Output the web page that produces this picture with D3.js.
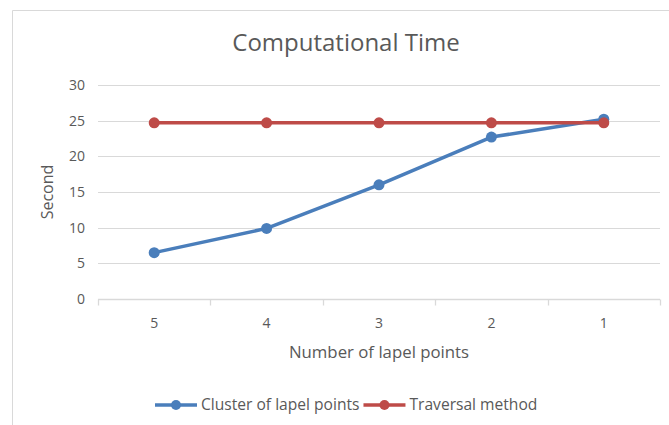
<!DOCTYPE html>
<html>
<head>
<meta charset="utf-8">
<script src="https://cdn.jsdelivr.net/npm/d3@7"></script>
<style>
  html, body { margin: 0; padding: 0; background: #fff; }
  svg { display: block; font-family: "Open Sans", "DejaVu Sans", sans-serif; }
</style>
</head>
<body>
<svg id="chart" width="669" height="425"></svg>
<script>
// Category labels along the x axis (number of lapel points, descending)
const categories = ["5", "4", "3", "2", "1"];
// Computation time in seconds for each method
const clusterValues = [6.5, 9.9, 16.0, 22.7, 25.2];
const traversalValues = [24.7, 24.7, 24.7, 24.7, 24.7];
const yTicks = [0, 5, 10, 15, 20, 25, 30];

const seriesList = [
  { name: "Cluster of lapel points", values: clusterValues, color: "#4a7ebb" },
  { name: "Traversal method", values: traversalValues, color: "#be4b48" }
];

const svg = d3.select("#chart");
const textColor = "#595959";

// Outer chart frame
svg.append("path")
  .attr("d", "M12.5,425 V10.5 H669")
  .attr("fill", "none")
  .attr("stroke", "#d9d9d9")
  .attr("stroke-width", 1);

const plot = { left: 98, right: 660, top: 85, bottom: 299 };

const x = d3.scaleBand().domain(categories).range([plot.left, plot.right]);
const y = d3.scaleLinear().domain([0, 30]).range([plot.bottom, plot.top]);

// Horizontal gridlines
svg.append("g")
  .selectAll("line")
  .data(yTicks.filter(t => t > 0))
  .join("line")
  .attr("x1", plot.left)
  .attr("x2", plot.right)
  .attr("y1", d => Math.round(y(d)) + 0.5)
  .attr("y2", d => Math.round(y(d)) + 0.5)
  .attr("stroke", "#d9d9d9")
  .attr("stroke-width", 1);

// Y axis labels
const yAxis = d3.axisLeft(y).tickValues(yTicks).tickSize(0).tickPadding(0);
const gy = svg.append("g")
  .attr("transform", `translate(${plot.left - 13},0)`)
  .call(yAxis);
gy.select(".domain").remove();
gy.selectAll("text")
  .attr("fill", textColor)
  .attr("font-size", 14)
  .attr("font-family", "Open Sans, sans-serif");

// X axis with ticks at the category boundaries
const gx = svg.append("g")
  .attr("transform", `translate(0,${Math.round(plot.bottom) + 0.5})`);
gx.append("line")
  .attr("x1", plot.left).attr("x2", plot.right)
  .attr("stroke", "#d9d9d9").attr("stroke-width", 1.3);
const boundaries = categories.map(c => x(c)).concat([x.range()[1]]);
gx.selectAll(".bt")
  .data(boundaries)
  .join("line")
  .attr("class", "bt")
  .attr("x1", d => Math.round(d) + 0.5)
  .attr("x2", d => Math.round(d) + 0.5)
  .attr("y1", 0).attr("y2", 6)
  .attr("stroke", "#d9d9d9").attr("stroke-width", 1.3);
gx.selectAll(".cl")
  .data(categories)
  .join("text")
  .attr("class", "cl")
  .attr("x", d => x(d) + x.bandwidth() / 2)
  .attr("y", 28)
  .attr("text-anchor", "middle")
  .attr("fill", textColor)
  .attr("font-size", 14)
  .text(d => d);

// Title and axis titles
svg.append("text")
  .attr("x", 346).attr("y", 51)
  .attr("text-anchor", "middle")
  .attr("fill", textColor)
  .attr("font-size", 24)
  .text("Computational Time");

svg.append("text")
  .attr("transform", `translate(53,${(plot.top + plot.bottom) / 2}) rotate(-90)`)
  .attr("text-anchor", "middle")
  .attr("fill", textColor)
  .attr("font-size", 16)
  .text("Second");

svg.append("text")
  .attr("x", (plot.left + plot.right) / 2).attr("y", 358)
  .attr("text-anchor", "middle")
  .attr("fill", textColor)
  .attr("font-size", 16.8)
  .text("Number of lapel points");

// Series lines and markers
const line = d3.line()
  .x((d, i) => x(categories[i]) + x.bandwidth() / 2)
  .y(d => y(d));

seriesList.forEach(s => {
  const g = svg.append("g");
  g.append("path")
    .datum(s.values)
    .attr("d", line)
    .attr("fill", "none")
    .attr("stroke", s.color)
    .attr("stroke-width", 3.5)
    .attr("stroke-linejoin", "round")
    .attr("stroke-linecap", "round");
  g.selectAll("circle")
    .data(s.values)
    .join("circle")
    .attr("cx", (d, i) => x(categories[i]) + x.bandwidth() / 2)
    .attr("cy", d => y(d))
    .attr("r", 5.5)
    .attr("fill", s.color);
});

// Legend
const legend = svg.append("g").attr("transform", "translate(0,405)");
let lx = 155;
seriesList.forEach(s => {
  const item = legend.append("g").attr("transform", `translate(${lx},0)`);
  item.append("line")
    .attr("x1", 0).attr("x2", 42)
    .attr("stroke", s.color).attr("stroke-width", 3.5);
  item.append("circle").attr("cx", 21).attr("r", 5).attr("fill", s.color);
  const t = item.append("text")
    .attr("x", 46).attr("y", 5)
    .attr("fill", textColor)
    .attr("font-size", 15.6)
    .text(s.name);
  lx += 46 + t.node().getComputedTextLength() + 4;
});
</script>
</body>
</html>
